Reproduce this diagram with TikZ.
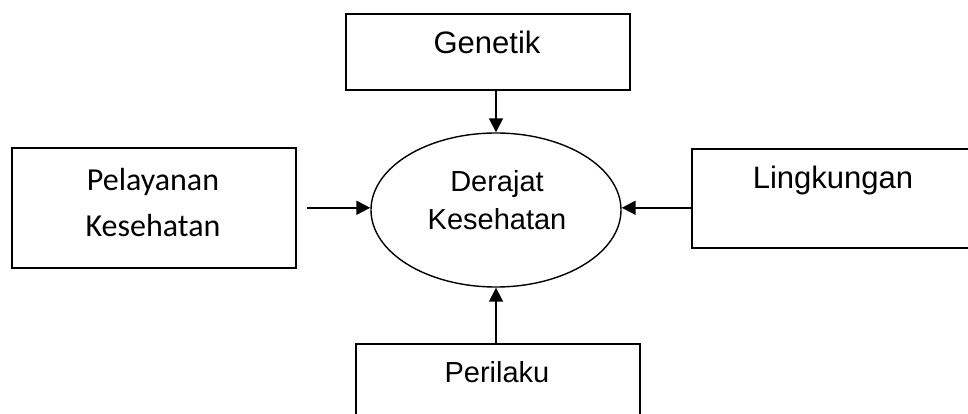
\documentclass[tikz,border=0pt]{standalone}
\usepackage{fontspec}
\setmainfont{Liberation Sans}
\newfontfamily\calibri{Carlito}
\usetikzlibrary{positioning,calc,arrows.meta,shapes}

\begin{document}
\begin{tikzpicture}[x=1pt,y=-1pt,
                box/.style={draw,line width=1.6pt,inner sep=0pt,anchor=north west},
                txt/.style={inner sep=0pt,align=center,font=\fontsize{30}{38}\selectfont},
                every edge/.style={draw,line width=1.8pt,-{Triangle[length=14pt,width=14pt]}}]

\useasboundingbox (0,0) rectangle (968,414);
\clip (0,0) rectangle (968,414);

\node[box,minimum width=284pt,minimum height=76pt]  (genetik)   at (345,13)  {};
\node[box,minimum width=284pt,minimum height=120pt] (pelayanan) at (11,147)  {};
\node[box,minimum width=320pt,minimum height=99pt]  (lingk)     at (691,148) {};
\node[box,minimum width=284pt,minimum height=110pt] (perilaku)  at (355,343) {};
\node[draw,ellipse,line width=1.4pt,inner sep=0pt,
      minimum width=250pt,minimum height=154pt]     (derajat)   at (496,210) {};

\node[txt,anchor=base,font=\fontsize{31}{38}\selectfont] (genetiktxt)  at (487,54)  {Genetik};
\node[txt,font=\calibri\fontsize{32}{46}\selectfont]     (pelayanantxt) at (153,203) {Pelayanan\\Kesehatan};
\node[txt,anchor=base,font=\fontsize{31}{38}\selectfont] (lingktxt)    at (833,188) {Lingkungan};
\node[txt,anchor=base,font=\fontsize{29}{38}\selectfont] (perilakutxt) at (497,382) {Perilaku};
\node[txt,font=\fontsize{29}{38}\selectfont]             (derajattxt)  at (497,200) {Derajat\\Kesehatan};

  \path (genetik.south -| derajat.north) edge (derajat.north)
        (pelayanan.east) edge [shorten <=10pt] (pelayanan.east -| derajat.west)
        (lingk.west |- pelayanan.east) edge (derajat.east |- pelayanan.east)
        (perilaku.north -| derajat.south) edge (derajat.south)
        ;
\end{tikzpicture}
\end{document}
